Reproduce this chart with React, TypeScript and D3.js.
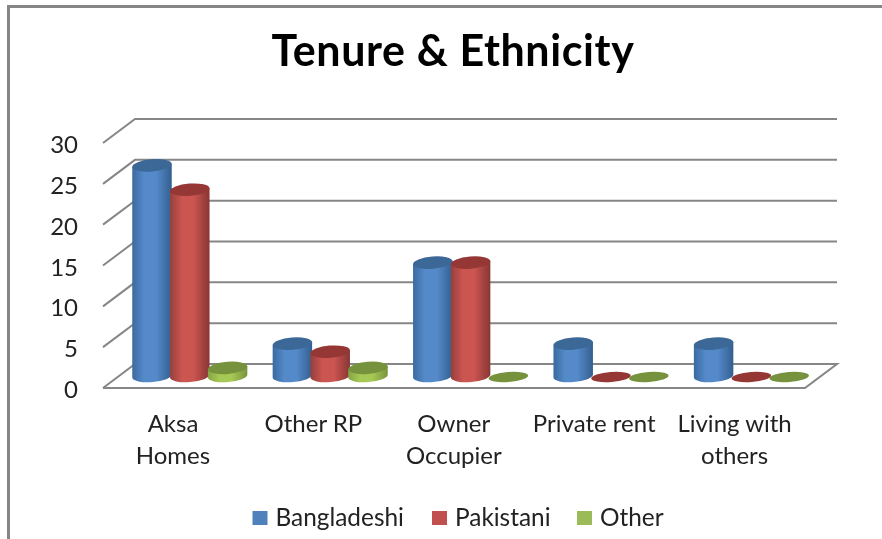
import React from "react";
import * as d3 from "d3";

const categories = [["Aksa", "Homes"], ["Other RP"], ["Owner", "Occupier"], ["Private rent"], ["Living with", "others"]];
const bangladeshi = [26, 4, 14, 4, 4];
const pakistani = [23, 3, 14, 0, 0];
const other = [1, 1, 0, 0, 0];
const seriesNames = ["Bangladeshi", "Pakistani", "Other"];
const ticks = [0, 5, 10, 15, 20, 25, 30];

const W = 882, H = 539;
const frontY = d3.scaleLinear().domain([0, 30]).range([388, 143]);
const depth = { x: 32, y: -24 };
const band = d3.scaleBand<number>().domain([0, 1, 2, 3, 4]).range([103, 805]);
const inner = d3.scaleBand<number>().domain([0, 1, 2]).range([0, 113.4]);
const baseY = 376;
const unit = 8.1;
const R = 19.8, ry = 6.1, theta = 4.5;
const dxT = R * Math.cos((theta * Math.PI) / 180), dyT = R * Math.sin((theta * Math.PI) / 180);

const palette = [
  { id: "b", edge1: "#3a6a9f", mid: "#558aca", edge2: "#335f8f", top: "#3b6796", flat: "#3b6796", leg: "#4f81bd" },
  { id: "r", edge1: "#95403d", mid: "#cb5451", edge2: "#873634", top: "#953735", flat: "#953735", leg: "#c0504d" },
  { id: "g", edge1: "#86a446", mid: "#a6c955", edge2: "#78953c", top: "#76923c", flat: "#76923c", leg: "#9bbb59" },
];
const series = [bangladeshi, pakistani, other];
const legendX = [252.5, 432, 577];

export default function App() {
  const grid = ticks.map((t) => ({ t, y: frontY(t) }));
  return (
    <svg width={W} height={H} viewBox={`0 0 ${W} ${H}`} style={{ position: "absolute", left: 0, top: 0, background: "#fff" }}>
      <defs>
        <filter id="soft" x="-5%" y="-5%" width="110%" height="110%">
          <feGaussianBlur stdDeviation="0.6" />
        </filter>
        {palette.map((p) => (
          <linearGradient key={p.id} id={`grad-${p.id}`} x1="0" x2="1" y1="0" y2="0">
            <stop offset="0" stopColor={p.edge1} />
            <stop offset="0.3" stopColor={p.mid} />
            <stop offset="0.6" stopColor={p.mid} />
            <stop offset="1" stopColor={p.edge2} />
          </linearGradient>
        ))}
      </defs>
      <path d="M8.5 539 V6.5 H882" fill="none" stroke="#868686" strokeWidth={3} />
      <g filter="url(#soft)">
        <text x={453} y={66} textAnchor="middle" fontFamily="Lato" fontWeight={700} fontSize={43} letterSpacing={0.6} fill="#000">
          Tenure &amp; Ethnicity
        </text>
        <g stroke="#868686" strokeWidth={2} fill="none">
          {grid.map(({ t, y }) => (
            <path key={t} d={t === 0
              ? `M${103} ${y} H805 L${805 + depth.x} ${y + depth.y} H${103 + depth.x} L103 ${y}`
              : `M103 ${y} L${103 + depth.x} ${y + depth.y} H${805 + depth.x}`} />
          ))}
        </g>
        {grid.map(({ t, y }) => (
          <text key={t} x={78} y={y + 10} textAnchor="end" fontFamily="Lato" fontSize={24} fill="#222">{t}</text>
        ))}
        {series.map((vals, s) =>
          vals.map((v, i) => {
            const cx = (band(i) as number) + 30.1 + (inner(s) as number) + inner.bandwidth() / 2;
            const p = palette[s];
            const topY = baseY - v * unit;
            if (v === 0) {
              return <ellipse key={`${s}-${i}`} cx={cx} cy={baseY + 1} rx={R} ry={5} transform={`rotate(${-theta} ${cx} ${baseY + 1})`} fill={p.flat} />;
            }
            const body = `M${cx - dxT} ${topY + dyT} L${cx - dxT} ${baseY + dyT} A${R} ${ry} ${-theta} 0 0 ${cx + dxT} ${baseY - dyT} L${cx + dxT} ${topY - dyT} Z`;
            return (
              <g key={`${s}-${i}`}>
                <path d={body} fill={`url(#grad-${p.id})`} />
                <ellipse cx={cx} cy={topY} rx={R} ry={ry} transform={`rotate(${-theta} ${cx} ${topY})`} fill={p.top} />
              </g>
            );
          })
        )}
        {categories.map((lines, i) => (
          <text key={i} textAnchor="middle" fontFamily="Lato" fontSize={24} fill="#222">
            {lines.map((l, j) => (
              <tspan key={j} x={(band(i) as number) + 70} y={432 + j * 32}>{l}</tspan>
            ))}
          </text>
        ))}
        {seriesNames.map((n, s) => (
          <g key={n}>
            <rect x={legendX[s]} y={511} width={15} height={14} fill={palette[s].leg} />
            <text x={legendX[s] + 23} y={526} fontFamily="Lato" fontSize={24.4} fill="#222">{n}</text>
          </g>
        ))}
      </g>
    </svg>
  );
}
